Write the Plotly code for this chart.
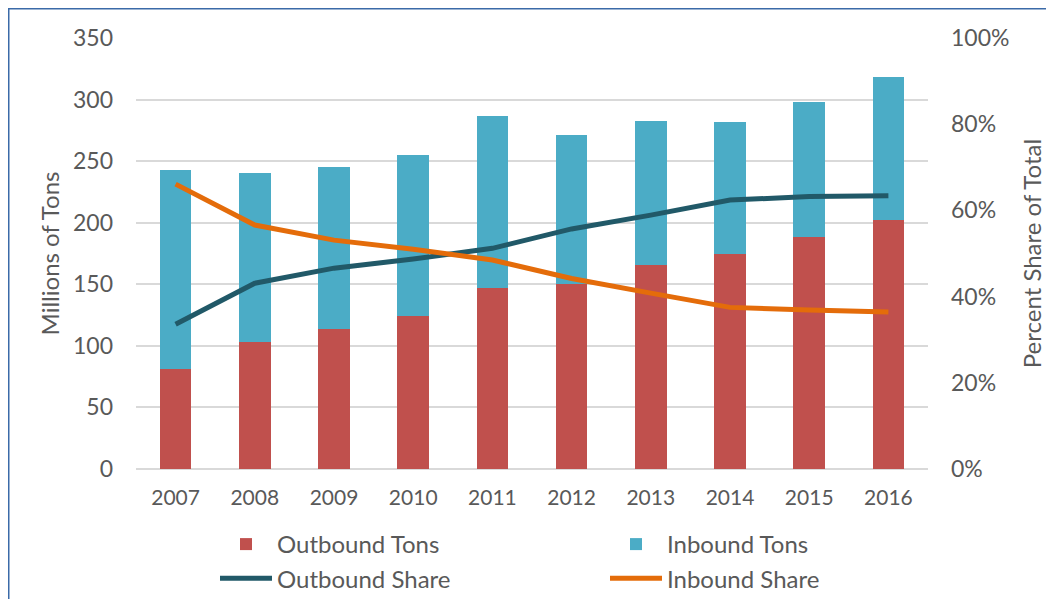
import plotly.graph_objects as go

years = ["2007", "2008", "2009", "2010", "2011", "2012", "2013", "2014", "2015", "2016"]
outbound_tons = [81, 103, 114, 124, 147, 150, 166, 175, 188, 202]
inbound_tons = [162, 137, 131, 131, 140, 121, 117, 107, 110, 116]
outbound_share = [0.336, 0.431, 0.466, 0.487, 0.512, 0.557, 0.589, 0.624, 0.632, 0.634]
inbound_share = [0.661, 0.566, 0.531, 0.510, 0.485, 0.442, 0.408, 0.375, 0.369, 0.364]

FONT = "Lato"
TXT = "#595959"
GRID = "#D9D9D9"

fig = go.Figure()
fig.add_trace(go.Bar(x=years, y=outbound_tons, name="Outbound Tons",
                     marker=dict(color="#C0504D", line=dict(width=0))))
fig.add_trace(go.Bar(x=years, y=inbound_tons, name="Inbound Tons",
                     marker=dict(color="#4BACC6", line=dict(width=0))))
fig.add_trace(go.Scatter(x=years, y=outbound_share, name="Outbound Share", yaxis="y2",
                         mode="lines", line=dict(color="#215968", width=5)))
fig.add_trace(go.Scatter(x=years, y=inbound_share, name="Inbound Share", yaxis="y2",
                         mode="lines", line=dict(color="#E46C0A", width=5)))

# page is offset by an 8px body margin
W, H = 1046, 591
L, R, T, B = 128, 126, 30, 130
pw, ph = W - L - R, H - T - B

def px(x):
    return (x - L) / pw

def py(y):
    return (H - B - y) / ph

fig.update_layout(
    width=W, height=H,
    margin=dict(l=L, r=R, t=T, b=B, autoexpand=False),
    paper_bgcolor="white", plot_bgcolor="white",
    barmode="stack", bargap=0.6,
    font=dict(family=FONT, size=24, color=TXT),
    xaxis=dict(showgrid=False, showline=False, ticks="", ticklabelstandoff=14,
               tickfont=dict(size=21, color=TXT)),
    yaxis=dict(range=[0, 350], dtick=50, showgrid=True, gridcolor=GRID, gridwidth=2,
               zeroline=True, zerolinecolor=GRID, zerolinewidth=2, showline=False,
               ticks="", ticklabelstandoff=22, tickfont=dict(size=23, color=TXT),
               title=dict(text="Millions of Tons", standoff=6, font=dict(size=24, color=TXT))),
    yaxis2=dict(range=[0, 1], dtick=0.2, tickformat=".0%", overlaying="y", side="right",
                showgrid=False, zeroline=False, showline=False, ticks="",
                ticklabelstandoff=22, tickfont=dict(size=23, color=TXT),
                title=dict(text="Percent Share of Total", standoff=15, font=dict(size=24, color=TXT))),
    legend=dict(orientation="h", x=px(207), xanchor="left", y=py(514), yanchor="top",
                entrywidth=323, entrywidthmode="pixels", itemwidth=52,
                traceorder="normal", font=dict(size=24, color=TXT),
                bgcolor="rgba(0,0,0,0)", tracegroupgap=0),
    shapes=[dict(type="rect", xref="paper", yref="paper",
                 x0=px(0.5), x1=px(1070), y0=py(620), y1=py(0.5),
                 line=dict(color="#3B6AA8", width=2), fillcolor="rgba(0,0,0,0)", layer="above")],
)

fig.write_html("out.html")
